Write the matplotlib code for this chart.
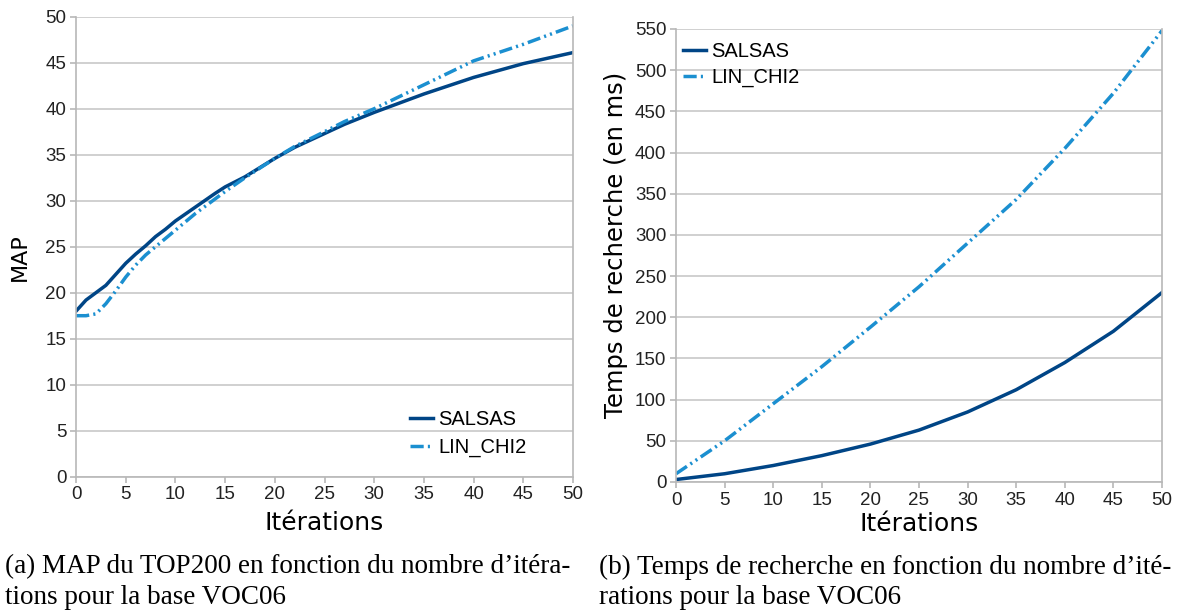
import matplotlib.pyplot as plt

iters_map = [0, 1, 2, 3, 4, 5, 6, 7, 8, 9, 10, 12, 14, 15, 17, 20, 22, 25, 27, 30, 35, 40, 45, 50]
map_salsas = [18.0, 19.2, 20.0, 20.8, 22.0, 23.2, 24.2, 25.1, 26.1, 26.9, 27.8, 29.3, 30.8, 31.5,
              32.6, 34.6, 35.8, 37.3, 38.3, 39.6, 41.6, 43.4, 44.9, 46.1]
map_linchi2 = [17.5, 17.5, 17.7, 18.8, 20.2, 21.7, 23.0, 24.1, 25.0, 25.9, 26.8, 28.6, 30.2, 31.0,
               32.5, 34.6, 35.9, 37.5, 38.6, 40.0, 42.6, 45.2, 47.0, 49.0]

iters_time = [0, 5, 10, 15, 20, 25, 30, 35, 40, 45, 50]
time_salsas = [3, 10, 20, 32, 46, 63, 85, 112, 145, 183, 230]
time_linchi2 = [10, 50, 95, 140, 188, 237, 290, 343, 405, 472, 548]

labels = ['SALSAS', 'LIN_CHI2']
caption_a = ["(a) MAP du TOP200 en fonction du nombre d\u2019itéra-", "tions pour la base VOC06"]
caption_b = ["(b) Temps de recherche en fonction du nombre d\u2019ité-", "rations pour la base VOC06"]

c_dark = '#004586'
c_light = '#1b8fd0'
dashdotdot = (0, (3.8, 1.2, 0.6, 1.2, 0.6, 1.2))
tick_font = 'Liberation Sans'
label_font = 'DejaVu Sans'

fig = plt.figure(figsize=(11.81, 6.14), dpi=100)
ax1 = fig.add_axes([0.0644, 0.2236, 0.4208, 0.7492])
ax2 = fig.add_axes([0.5724, 0.215, 0.4115, 0.7378])


def style(ax, ymax, ystep):
    ax.set_xlim(0, 50)
    ax.set_ylim(0, ymax)
    ax.set_xticks(range(0, 51, 5))
    ax.set_yticks(range(0, ymax + 1, ystep))
    ax.grid(axis='y', color='#c8c8c8', lw=1.2)
    ax.set_axisbelow(True)
    ax.spines['top'].set_visible(False)
    for s in ['left', 'bottom', 'right']:
        ax.spines[s].set_color('#b8b8b8')
        ax.spines[s].set_linewidth(1.2)
    ax.tick_params(colors='#b8b8b8', length=4, width=1.2, labelcolor='#222222', labelsize=13.5, pad=3)
    for t in ax.get_xticklabels() + ax.get_yticklabels():
        t.set_fontfamily(tick_font)


ax1.plot(iters_map, map_salsas, color=c_dark, lw=2.5, label=labels[0])
ax1.plot(iters_map, map_linchi2, color=c_light, lw=2.5, linestyle=dashdotdot, label=labels[1])
style(ax1, 50, 5)
ax1.set_xlabel('Itérations', fontsize=18, family=label_font)
ax1.set_ylabel('MAP', fontsize=16, family=label_font)
ax1.xaxis.set_label_coords(0.5, (476.7 - 511) / 460)
ax1.yaxis.set_label_coords((29.5 - 76) / 497, (476.7 - 257) / 460)
ax1.legend(loc='center left', bbox_to_anchor=(0.672, 0.094), frameon=False, borderpad=0,
           borderaxespad=0, handlelength=1.15, handletextpad=0.25, labelspacing=0.45,
           prop={'family': tick_font, 'size': 14.5})

ax2.plot(iters_time, time_salsas, color=c_dark, lw=2.5, label=labels[0])
ax2.plot(iters_time, time_linchi2, color=c_light, lw=2.5, linestyle=dashdotdot, label=labels[1])
style(ax2, 550, 50)
ax2.set_xlabel('Itérations', fontsize=18, family=label_font)
ax2.set_ylabel('Temps de recherche (en ms)', fontsize=17.5, family=label_font)
ax2.xaxis.set_label_coords(0.5, (482 - 512) / 453)
ax2.yaxis.set_label_coords((628 - 676) / 486, (482 - 245) / 453)
ax2.legend(loc='center left', bbox_to_anchor=(0.0144, 0.922), frameon=False, borderpad=0,
           borderaxespad=0, handlelength=1.15, handletextpad=0.25, labelspacing=0.35,
           prop={'family': tick_font, 'size': 14.5})

for i, line in enumerate(caption_a):
    fig.text(5 / 1181, 1 - (567 + 30 * i) / 614, line, family='Liberation Serif', fontsize=19.5,
             va='center', ha='left')
for i, line in enumerate(caption_b):
    fig.text(599 / 1181, 1 - (567 + 30 * i) / 614, line, family='Liberation Serif', fontsize=19.5,
             va='center', ha='left')

fig.savefig('out.png', dpi=100)
